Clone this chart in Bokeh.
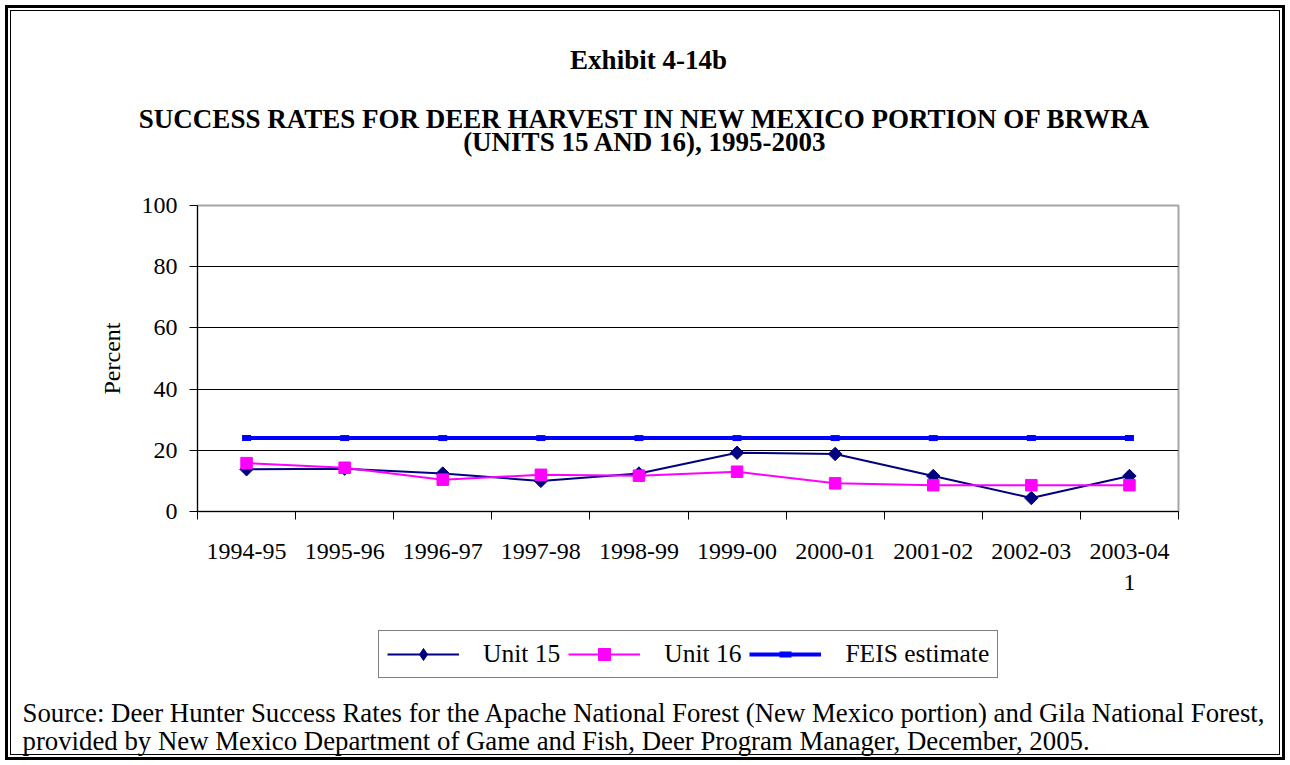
import math
from bokeh.plotting import figure
from bokeh.layouts import column
from bokeh.models import FixedTicker, Legend, Range1d
from bokeh.core.properties import value
from bokeh.embed import file_html
from bokeh.resources import INLINE

# ---- data ----
seasons = ["1994-95", "1995-96", "1996-97", "1997-98", "1998-99",
           "1999-00", "2000-01", "2001-02", "2002-03", "2003-04\n1"]
unit15 = [13.8, 14.0, 12.4, 10.0, 12.4, 19.2, 18.8, 11.6, 4.4, 11.6]
unit16 = [15.8, 14.3, 10.4, 12.0, 11.7, 13.0, 9.2, 8.6, 8.6, 8.6]
feis = [24, 24, 24, 24, 24, 24, 24, 24, 24, 24]
y_ticks = [0, 20, 40, 60, 80, 100]
series_names = ["Unit 15", "Unit 16", "FEIS estimate"]
exhibit = "Exhibit 4-14b"
title_lines = ["SUCCESS RATES FOR DEER HARVEST IN NEW MEXICO PORTION OF BRWRA",
               "(UNITS 15 AND 16), 1995-2003"]
source_lines = ["Source: Deer Hunter Success Rates for the Apache National Forest (New Mexico portion) and Gila National Forest,",
                "provided by New Mexico Department of Game and Fish, Deer Program Manager, December, 2005."]

FONT = "Liberation Serif"
W = 1290
TOP_H, MAIN_H, BOT_H = 160, 450, 155
C15, C16, CF = "#000080", "#ff00ff", "#0000ff"


def text_panel(h):
    f = figure(width=W, height=h, output_backend="svg", toolbar_location=None,
               x_range=Range1d(0, W), y_range=Range1d(h, 0),
               x_axis_type=None, y_axis_type=None,
               min_border=0, min_border_left=0, min_border_right=0,
               min_border_top=0, min_border_bottom=0, frame_align=False)
    f.title = None
    f.outline_line_color = None
    f.grid.visible = False
    f.background_fill_alpha = 0
    f.border_fill_alpha = 0
    return f


# ---- header ----
top = text_panel(TOP_H)
top.text(x=[648], y=[59], text=[exhibit], text_font=value(FONT),
         text_font_size="27px", text_font_style="bold", text_color="black",
         text_align="center", text_baseline="middle")
top.text(x=[644.5, 644.5], y=[118, 141], text=title_lines, text_font=value(FONT),
         text_font_size="27px", text_font_style="bold", text_color="black",
         text_align="center", text_baseline="middle")

# ---- main chart ----
xs = [i + 0.5 for i in range(len(seasons))]
p = figure(width=W, height=MAIN_H, output_backend="svg", toolbar_location=None,
           x_range=Range1d(0, len(seasons)), y_range=Range1d(0, 100),
           min_border_left=197, min_border_top=45,
           min_border_right=112, min_border_bottom=99, frame_align=False)
p.title = None
p.background_fill_color = "white"
p.border_fill_alpha = 0
p.outline_line_color = "#a6a6a6"
p.outline_line_width = 2

p.xaxis.ticker = FixedTicker(ticks=xs, minor_ticks=list(range(len(seasons) + 1)))
p.xaxis.major_label_overrides = {x: s for x, s in zip(xs, seasons)}
p.xaxis.major_tick_line_color = None
p.xaxis.minor_tick_line_color = "black"
p.xaxis.minor_tick_out = 8
p.xaxis.minor_tick_in = 0
p.xaxis.axis_line_color = "black"
p.xaxis.major_label_standoff = 18
p.xaxis.major_label_text_font = FONT
p.xaxis.major_label_text_font_size = "24px"
p.xaxis.major_label_text_color = "black"

p.yaxis.ticker = FixedTicker(ticks=y_ticks)
p.yaxis.minor_tick_line_color = None
p.yaxis.major_tick_out = 8
p.yaxis.major_tick_in = 0
p.yaxis.major_tick_line_color = "black"
p.yaxis.axis_line_color = "black"
p.yaxis.major_label_standoff = 12
p.yaxis.major_label_text_font = FONT
p.yaxis.major_label_text_font_size = "24px"
p.yaxis.major_label_text_color = "black"
p.yaxis.axis_label = "Percent"
p.yaxis.axis_label_text_font = FONT
p.yaxis.axis_label_text_font_size = "24px"
p.yaxis.axis_label_text_font_style = "normal"
p.yaxis.axis_label_text_color = "black"
p.yaxis.axis_label_standoff = 14

p.xgrid.grid_line_color = None
p.ygrid.ticker = FixedTicker(ticks=[20, 40, 60, 80])
p.ygrid.grid_line_color = "black"
p.ygrid.grid_line_width = 1

p.line(xs, unit15, line_color=C15, line_width=2)
p.scatter(xs, unit15, marker="square", angle=math.pi / 4, size=9.5,
          fill_color=C15, line_color=C15)
p.line(xs, unit16, line_color=C16, line_width=2)
p.scatter(xs, unit16, marker="square", size=11.5, fill_color=C16, line_color=C16)
p.line(xs, feis, line_color=CF, line_width=4)
p.scatter(xs, feis, marker="dash", size=9, line_color=CF, line_width=6)

# ---- footer: legend + source ----
bot = text_panel(BOT_H)
# legend key glyphs (placed outside the visible range; only used by the legend)
kx, ky = [-60, -40], [-60, -60]
kl15 = bot.line(kx, ky, line_color=C15, line_width=2)
km15 = bot.scatter(kx[:1], ky[:1], marker="diamond", size=12,
                   fill_color=C15, line_color=C15)
kl16 = bot.line(kx, ky, line_color=C16, line_width=2)
km16 = bot.scatter(kx[:1], ky[:1], marker="square", size=11, fill_color=C16,
                   line_color=C16)
klf = bot.line(kx, ky, line_color=CF, line_width=4)
kmf = bot.scatter(kx[:1], ky[:1], marker="dash", size=9, line_color=CF, line_width=6)
legend = Legend(items=[(series_names[0], [kl15, km15]),
                       (series_names[1], [kl16, km16]),
                       (series_names[2], [klf, kmf])],
                orientation="horizontal", location=(378, 87),
                glyph_width=72, glyph_height=30, label_standoff=24, spacing=8,
                padding=8, margin=0,
                label_text_font=FONT, label_text_font_size="25.5px",
                label_text_color="black",
                border_line_color="black", border_line_width=1,
                background_fill_color="white", background_fill_alpha=1)
bot.add_layout(legend, "center")
bot.text(x=[22, 22], y=[102, 130], text=source_lines, text_font=value(FONT),
         text_font_size="26.8px", text_color="black",
         text_align="left", text_baseline="middle")

root = column(top, p, bot, spacing=0,
              styles={"background-color": "white",
                      "box-shadow": "inset 0 0 0 5px white, inset 0 0 0 8px black, "
                                    "inset 0 0 0 10px white, inset 0 0 0 11px black"})

open("out.html", "w").write(file_html(root, INLINE))
